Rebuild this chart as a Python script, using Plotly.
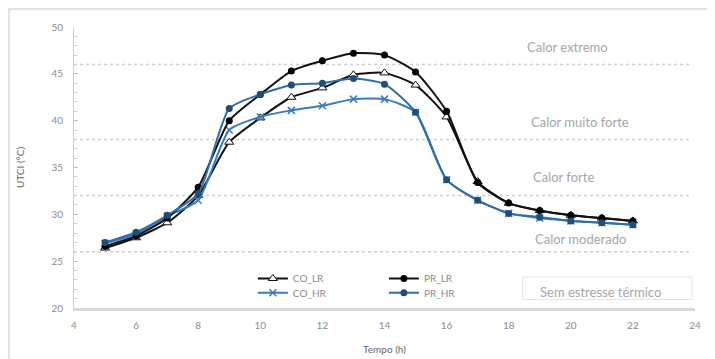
import plotly.graph_objects as go

hours = [5, 6, 7, 8, 9, 10, 11, 12, 13, 14, 15, 16, 17, 18, 19, 20, 21, 22]
co_lr = [26.4, 27.5, 29.1, 32.0, 37.7, 40.3, 42.5, 43.5, 44.9, 45.1, 43.8, 40.4, 33.5, 31.2, 30.4, 29.9, 29.6, 29.3]
pr_lr = [26.6, 27.7, 29.6, 32.9, 40.0, 42.8, 45.3, 46.4, 47.2, 47.0, 45.2, 41.0, 33.4, 31.2, 30.4, 29.9, 29.6, 29.3]
co_hr = [26.9, 27.9, 29.8, 31.5, 39.0, 40.4, 41.1, 41.6, 42.3, 42.3, 40.9, 33.7, 31.5, 30.1, 29.6, 29.3, 29.1, 28.9]
pr_hr = [27.0, 28.1, 29.9, 32.2, 41.3, 42.8, 43.8, 44.0, 44.5, 43.9, 40.9, 33.7, 31.5, 30.1, 29.7, 29.3, 29.1, 28.9]

zone_limits = [26, 32, 38, 46]
zone_labels = ["Calor moderado", "Calor forte", "Calor muito forte", "Calor extremo"]
zone_label_y = [27.4, 34.0, 39.9, 47.9]
zone_label_x = [20.3, 19.75, 20.3, 19.9]

FONT = "Lato, Liberation Sans, sans-serif"
GRAY = "#8c8c8c"

fig = go.Figure()

fig.add_trace(go.Scatter(
    x=hours, y=co_lr, name="CO_LR", mode="lines+markers",
    line=dict(color="#111111", width=2, shape="spline", smoothing=0.6),
    marker=dict(symbol="triangle-up", size=8, color="white", line=dict(color="#111111", width=1)),
    legend="legend"))
fig.add_trace(go.Scatter(
    x=hours, y=co_hr, name="CO_HR", mode="lines+markers",
    line=dict(color="#3a7bbf", width=2, shape="spline", smoothing=0.6),
    marker=dict(symbol="x-thin", size=7, color="#3a7bbf", line=dict(color="#3a7bbf", width=1.5)),
    legend="legend2"))
fig.add_trace(go.Scatter(
    x=hours, y=pr_lr, name="PR_LR", mode="lines+markers",
    line=dict(color="#111111", width=2, shape="spline", smoothing=0.6),
    marker=dict(symbol="circle", size=7, color="#000000"),
    legend="legend3"))
fig.add_trace(go.Scatter(
    x=hours, y=pr_hr, name="PR_HR", mode="lines+markers",
    line=dict(color="#2f6ea8", width=2, shape="spline", smoothing=0.6),
    marker=dict(symbol="circle", size=7, color="#1f4e79"),
    legend="legend4"))

shapes = []
for lim in zone_limits:
    shapes.append(dict(type="line", xref="x", yref="y", x0=4, x1=23.9, y0=lim, y1=lim,
                       line=dict(color="#cfcfcf", width=1.5, dash="dot"), layer="below"))
# outer border
shapes.append(dict(type="rect", xref="paper", yref="paper", x0=-0.1047, x1=1.2, y0=-0.3, y1=1.064,
                   line=dict(color="#d9d9d9", width=1.5), layer="below"))
# "Sem estresse térmico" box
shapes.append(dict(type="rect", xref="x", yref="y", x0=18.45, x1=23.9, y0=20.9, y1=23.3,
                   line=dict(color="#e3e3e3", width=1), fillcolor="white", layer="below"))

annotations = []
for lab, xx, yy in zip(zone_labels, zone_label_x, zone_label_y):
    annotations.append(dict(x=xx, y=yy, xref="x", yref="y", text=lab, showarrow=False,
                            font=dict(family=FONT, size=13, color="#a6a6a6")))
annotations.append(dict(x=20.95, y=21.75, xref="x", yref="y", text="Sem estresse térmico", showarrow=False,
                        font=dict(family=FONT, size=13, color="#a6a6a6")))

leg_common = dict(xanchor="left", yanchor="top", bgcolor="rgba(0,0,0,0)",
                  font=dict(family=FONT, size=10, color=GRAY), itemwidth=30)

fig.update_layout(
    width=707, height=351,
    margin=dict(l=66, r=20, t=19, b=51),
    paper_bgcolor="white", plot_bgcolor="white",
    font=dict(family=FONT, size=10, color=GRAY),
    shapes=shapes, annotations=annotations,
    showlegend=True,
    legend=dict(x=0.288, y=0.1566, **leg_common),
    legend2=dict(x=0.288, y=0.106, **leg_common),
    legend3=dict(x=0.499, y=0.1566, **leg_common),
    legend4=dict(x=0.499, y=0.106, **leg_common),
)

fig.update_xaxes(range=[4, 24], dtick=2, tick0=4, showgrid=False, zeroline=False, automargin=False,
                 showline=True, linecolor="#d9d9d9", linewidth=2.5, ticks="",
                 tickfont=dict(family=FONT, size=10, color=GRAY), ticklabelstandoff=6,
                 title=dict(text="Tempo (h)", font=dict(family=FONT, size=10, color="#666666"), standoff=17))
fig.update_yaxes(range=[20, 50], dtick=5, tick0=20, showgrid=False, zeroline=False, automargin=False,
                 showline=True, linecolor="#d0d0d0", linewidth=1,
                 ticks="inside", ticklen=4, tickcolor="#bfbfbf",
                 minor=dict(dtick=1, ticks="inside", ticklen=3, tickcolor="#cfcfcf"),
                 tickfont=dict(family=FONT, size=10, color=GRAY), ticklabelstandoff=8,
                 title=dict(text="UTCI (°C)", font=dict(family=FONT, size=10, color="#666666"), standoff=24))

fig.write_html("out.html")
